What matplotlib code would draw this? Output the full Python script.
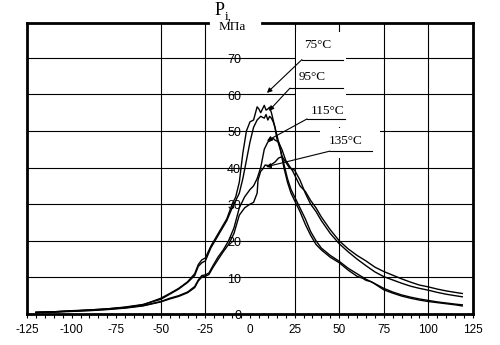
import numpy as np
import matplotlib.pyplot as plt
from matplotlib.patches import Rectangle

# шрифты
plt.rcParams['font.family'] = ['Liberation Sans', 'DejaVu Sans']
serif = ['Liberation Serif', 'DejaVu Serif']

# данные: P_i (МПа) в зависимости от координаты
x75 = [-120, -110, -100, -90, -80, -70, -60, -50, -45, -40, -35, -31, -29, -27, -25, -22,
       -19, -16, -13, -10, -8, -6, -4, -2, 0, 2, 4, 5, 6, 7, 8, 9, 10, 11, 12, 13, 14, 15,
       17, 19, 21, 23, 25, 28, 31, 34, 37, 40, 45, 50, 55, 60, 65, 70, 75, 80, 85, 90, 95,
       100, 105, 110, 115, 119]
y75 = [0.5, 0.6, 0.9, 1.1, 1.4, 1.8, 2.5, 4.3, 5.6, 7.0, 8.8, 11.0, 13.5, 14.8, 15.3, 18.5,
       21.0, 23.5, 26.0, 30.0, 32.0, 36.0, 44.0, 50.0, 52.5, 53.0, 56.6, 56.0, 55.0, 56.0, 57.0,
       55.7, 56.0, 56.5, 55.0, 53.0, 51.0, 48.0, 45.0, 41.0, 37.0, 34.0, 32.0, 29.0, 26.0,
       22.5, 20.0, 18.0, 16.0, 14.4, 12.5, 11.0, 9.5, 8.3, 7.0, 6.0, 5.2, 4.6, 4.1, 3.7, 3.3,
       3.0, 2.7, 2.5]

x95 = [-120, -110, -100, -90, -80, -70, -60, -50, -45, -40, -35, -31, -29, -27, -25, -22,
       -19, -16, -13, -10, -8, -6, -4, -2, 0, 2, 4, 6, 8, 9, 10, 11, 12, 13, 14, 15, 17, 19,
       21, 23, 25, 28, 31, 34, 37, 40, 45, 50, 55, 60, 63, 65, 68, 70, 75, 80, 85, 90, 95,
       100, 105, 110, 115, 119]
y95 = [0.4, 0.6, 0.8, 1.1, 1.4, 1.9, 2.6, 4.0, 5.4, 6.8, 8.6, 10.5, 13.0, 14.0, 14.5, 18.0,
       20.5, 23.0, 25.5, 29.0, 31.0, 33.0, 37.0, 42.0, 47.0, 51.0, 53.0, 54.0, 53.5, 54.5,
       53.0, 54.0, 53.5, 52.5, 51.0, 49.0, 45.0, 40.0, 36.0, 33.0, 31.0, 28.0, 24.5, 21.5,
       19.0, 17.5, 15.5, 14.0, 12.0, 10.3, 9.8, 9.2, 8.8, 8.2, 6.6, 5.7, 4.9, 4.3, 3.8, 3.4,
       3.1, 2.8, 2.5, 2.2]

x115 = [-120, -110, -100, -90, -80, -70, -60, -50, -45, -40, -35, -31, -29, -27, -25, -23,
        -21, -18, -15, -12, -9, -6, -3, 0, 2, 4, 6, 8, 10, 12, 13, 14, 16, 18, 20, 22, 24,
        26, 28, 31, 34, 37, 40, 45, 50, 55, 60, 65, 70, 75, 80, 85, 90, 95, 100, 105, 110,
        115, 119]
y115 = [0.4, 0.6, 0.8, 1.0, 1.3, 1.7, 2.3, 3.4, 4.3, 5.0, 6.0, 7.5, 9.3, 10.5, 10.7, 11.2,
        13.0, 15.5, 17.5, 20.0, 23.5, 29.0, 32.0, 34.0, 35.0, 37.0, 40.0, 45.0, 47.0, 47.5,
        48.0, 47.5, 47.0, 44.8, 42.0, 40.5, 39.0, 37.0, 35.0, 33.5, 31.0, 29.0, 26.5, 23.0,
        20.0, 17.8, 16.0, 14.5, 12.8, 11.6, 10.6, 9.6, 8.7, 7.9, 7.4, 6.8, 6.3, 5.9, 5.6]

x135 = [-120, -110, -100, -90, -80, -70, -60, -50, -45, -40, -35, -31, -29, -27, -25, -23,
        -21, -18, -15, -12, -9, -6, -3, 0, 2, 4, 4.5, 6, 7, 8.5, 11, 14, 16, 18, 20, 22, 25,
        28, 31, 34, 37, 40, 45, 50, 55, 60, 65, 70, 75, 80, 85, 90, 95, 100, 105, 110, 115, 119]
y135 = [0.4, 0.5, 0.7, 0.9, 1.2, 1.6, 2.2, 3.3, 4.1, 4.8, 5.8, 7.2, 9.0, 10.1, 10.3, 10.8,
        12.5, 14.8, 17.0, 19.0, 22.0, 27.0, 29.0, 30.0, 30.5, 33.0, 36.6, 39.0, 39.5, 40.7,
        40.5, 41.5, 42.6, 43.0, 41.5, 40.0, 39.3, 36.6, 33.0, 30.0, 28.0, 25.5, 22.0, 19.2,
        17.0, 15.0, 13.2, 11.5, 10.2, 9.3, 8.4, 7.6, 7.0, 6.5, 5.9, 5.4, 5.0, 4.7]

series = [(x75, y75), (x95, y95), (x115, y115), (x135, y135)]

# подписи температур: текст, положение текста, полка выноски, острие стрелки
labels = ['75°C', '95°C', '115°C', '135°C']
label_xy = [(38.1, 73.4), (35.0, 64.8), (43.7, 55.4), (53.8, 47.2)]
shelf_y = [69.5, 61.7, 53.3, 44.5]
shelf_x = [(29.1, 52.1), (22.4, 52.1), (32.0, 53.2), (44.8, 68.4)]
arrow_tip = [(9.5, 60.4), (10.6, 55.5), (9.5, 47.3), (9.0, 40.2)]

x_ticks = [-125, -100, -75, -50, -25, 0, 25, 50, 75, 100, 125]
x_grid = [-50, -25, 25, 50, 75, 100]
y_ticks = [0, 10, 20, 30, 40, 50, 60, 70]

fig = plt.figure(figsize=(5, 3.45), dpi=100)
ax = fig.add_axes([0.054, 0.0899, 0.892, 0.8434])
ax.set_xlim(-125, 125)
ax.set_ylim(0, 79.5)

for v in x_grid:
    ax.axvline(v, color='black', lw=0.8, zorder=1)
for h in y_ticks[1:]:
    ax.axhline(h, color='black', lw=0.8, zorder=1)

# белые подложки под подписями
for (x0, x1, y0, y1) in [(25.8, 53.8, 58.7, 77.0), (30.8, 61.7, 51.0, 58.7),
                         (39.2, 72.9, 42.6, 50.8)]:
    ax.add_patch(Rectangle((x0, y0), x1 - x0, y1 - y0, facecolor='white',
                           edgecolor='none', zorder=1.5))

for xs, ys in series:
    ax.plot(xs, ys, color='black', lw=1.0, zorder=3)

for lab, (tx, ty), sy, (sx0, sx1), tip in zip(labels, label_xy, shelf_y, shelf_x, arrow_tip):
    ax.text(tx, ty, lab, family=serif, fontsize=9.5, ha='center', va='center', zorder=4)
    ax.plot([sx0, sx1], [sy, sy], color='black', lw=0.8, zorder=4)
    ax.annotate('', xy=tip, xytext=(sx0, sy),
                arrowprops=dict(arrowstyle='-|>', color='black', lw=0.8,
                                mutation_scale=7, shrinkA=0, shrinkB=0), zorder=4)

# оси
for s in ['left', 'right', 'bottom']:
    ax.spines[s].set_linewidth(2.0)
ax.spines['top'].set_visible(False)
ax.plot([-125, -23.5], [79.5, 79.5], color='black', lw=2.0, clip_on=False, zorder=5)
ax.plot([6.7, 125], [79.5, 79.5], color='black', lw=2.0, clip_on=False, zorder=5)

ax.set_xticks(x_ticks)
ax.set_xticklabels([str(v) for v in x_ticks])
ax.set_xticks(np.arange(-125, 126, 5), minor=True)
ax.tick_params(axis='x', which='both', direction='out', length=3, width=0.8,
               labelsize=8.5, pad=4)
ax.set_yticks([])

for v in y_ticks:
    ax.text(-5.0, v - 0.6, str(v), ha='right', va='center', fontsize=9, zorder=2)

ax.text(-17.0, 82.8, 'P', family=serif, fontsize=13, ha='center', va='center',
        clip_on=False)
ax.text(-12.2, 81.3, 'i,', family=serif, fontsize=9.5, ha='center', va='center',
        clip_on=False)
ax.text(-10.0, 78.3, 'МПа', family=serif, fontsize=9.5, ha='center', va='center',
        clip_on=False)

fig.savefig('out.png', dpi=100)
